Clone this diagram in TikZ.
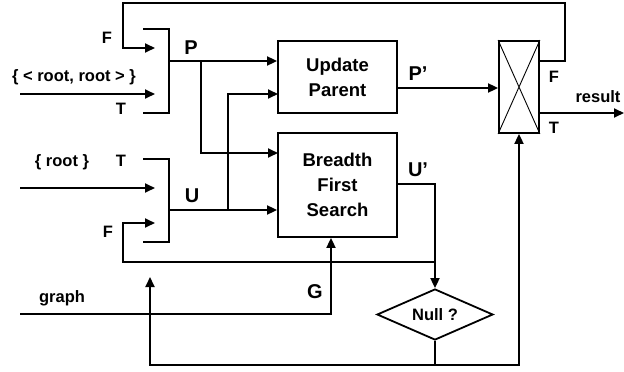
\documentclass[tikz,border=0pt]{standalone}
\usepackage{fontspec}
\setmainfont{Liberation Sans}
\usetikzlibrary{arrows.meta,shapes.geometric}
\begin{document}
\begin{tikzpicture}[x=1pt,y=-1pt,line width=1.8pt,
  >={Triangle[length=10pt,width=9pt]},
  box/.style={draw,minimum width=119pt,align=center,inner sep=0pt,
    font=\fontsize{18.5}{25}\selectfont\bfseries},
  lbl/.style={font=\fontsize{16.5}{18}\selectfont\bfseries,inner sep=0pt},
  big/.style={font=\fontsize{20}{22}\selectfont\bfseries,inner sep=0pt},
  thin/.style={line width=0.9pt}]
\useasboundingbox (0,0) rectangle (624,372);
% boxes
\node[box,minimum height=72pt] (up) at (337.5,77) {Update\\Parent};
\node[box,minimum height=104pt] (bfs) at (337.5,185) {Breadth\\First\\Search};
\node[draw,minimum width=40pt,minimum height=92pt,inner sep=0pt] (mux) at (519,87) {};
\draw[thin] (mux.north west) -- (mux.south east) (mux.south west) -- (mux.north east);
\node[draw,diamond,minimum width=116pt,minimum height=51pt,inner sep=0pt,aspect=2.3,
  font=\fontsize{16.5}{18}\selectfont\bfseries] (null) at (435,314.5) {Null ?};
% brackets (selectors)
\draw (143,29) -- (169,29) -- (169,113) -- (143,113);
\draw (143,159) -- (169,159) -- (169,242) -- (143,242);
\coordinate (pout) at (169,61);
\coordinate (uout) at (169,210);
\coordinate (pin1) at (155,48);
\coordinate (pin2) at (155,94);
\coordinate (uin1) at (155,188);
\coordinate (uin2) at (155,223);
\coordinate (rootrootsrc) at (20,94);
\coordinate (rootsrc) at (20,188);
\coordinate (graphsrc) at (20,314);
\coordinate (muxF) at (539,61);
\coordinate (muxT) at (539,113);
\coordinate (resend) at (624,113);
\coordinate (upP) at (up.west |- pout);
\coordinate (upU) at (278,94);
\coordinate (bfsP) at (278,153);
\coordinate (bfsU) at (bfs.west |- uout);
\coordinate (fb) at (435,262);
\coordinate (nb) at (435,365);
\coordinate (upend) at (150,277);
% connectors
\draw[->] (muxF) -| (565,3) -| (123,48) -- (pin1);
\draw[->] (rootrootsrc) -- (pin2);
\draw[->] (rootsrc) -- (uin1);
\draw[->] (fb) -| (123,223) -- (uin2);
\draw[->] (pout) -- (upP);
\draw[->] (201,61) |- (bfsP);
\draw[->] (uout) -- (bfsU);
\draw[->] (228,210) |- (upU);
\draw[->] (up.east |- 0,88) -- (mux.west |- 0,88);
\draw[->] (bfs.east |- 0,184) -| (null.north);
\draw[->] (graphsrc) -| (bfs.south -| 331,0);
\draw (null.south) -- (nb);
\draw[->] (nb) -| (upend);
\draw[->] (nb) -| (mux.south);
\draw[->] (muxT) -- (resend);
% labels
\node[lbl] at (107,38) {F};
\node[lbl] at (121,109) {T};
\node[lbl] at (74,77) {\{ < root, root > \}};
\node[big] at (191,48) {P};
\node[lbl] at (62,162) {\{ root \}};
\node[lbl] at (121,161) {T};
\node[big] at (192,196) {U};
\node[lbl] at (108,232) {F};
\node[lbl] at (62,298) {graph};
\node[big] at (315,292) {G};
\node[big] at (418,170) {U'};
\node[big] at (418,74) {P'};
\node[lbl] at (554,77) {F};
\node[lbl] at (554,128) {T};
\node[lbl] at (598,97) {result};
\end{tikzpicture}
\end{document}
